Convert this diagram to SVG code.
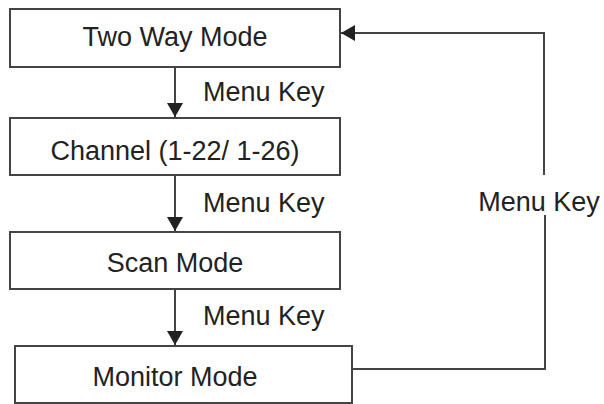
<svg xmlns="http://www.w3.org/2000/svg" width="604" height="404" viewBox="0 0 604 404">
<style>
rect{fill:#fff;stroke:#444;stroke-width:2}
text{font-family:"Liberation Sans",Arial,sans-serif;font-size:27px;fill:#222}
.c{text-anchor:middle}
line,polyline{stroke:#444;stroke-width:2;fill:none}
</style>
<defs>
<marker id="b" markerWidth="14" markerHeight="16" refX="14" refY="8" orient="auto" markerUnits="userSpaceOnUse"><path d="M0,0 L14,8 L0,16 z" fill="#222"/></marker></defs>
<rect width="604" height="404" style="fill:#fff;stroke:none"/>
<g id="connectors">
<line x1="175" y1="67" x2="175" y2="117" marker-end="url(#b)"/>
<line x1="175" y1="175" x2="175" y2="231" marker-end="url(#b)"/>
<line x1="175" y1="289" x2="175" y2="345" marker-end="url(#b)"/>
<polyline points="352,369 545,369 545,215"/>
<polyline points="544,175 544,33 341,33" marker-end="url(#b)"/>
<text x="203" y="101">Menu Key</text>
<text x="203" y="212">Menu Key</text>
<text x="203" y="325">Menu Key</text>
<text x="539" y="211" class="c">Menu Key</text>
</g>
<g id="n1"><rect x="10" y="9" width="330" height="58"/><text x="175" y="46" class="c">Two Way Mode</text></g>
<g id="n2"><rect x="10" y="118" width="330" height="57"/><text x="175" y="160" class="c">Channel (1-22/ 1-26)</text></g>
<g id="n3"><rect x="10" y="232" width="330" height="57"/><text x="175" y="272" class="c">Scan Mode</text></g>
<g id="n4"><rect x="15" y="346" width="337" height="57"/><text x="175" y="386" class="c">Monitor Mode</text></g>
</svg>
